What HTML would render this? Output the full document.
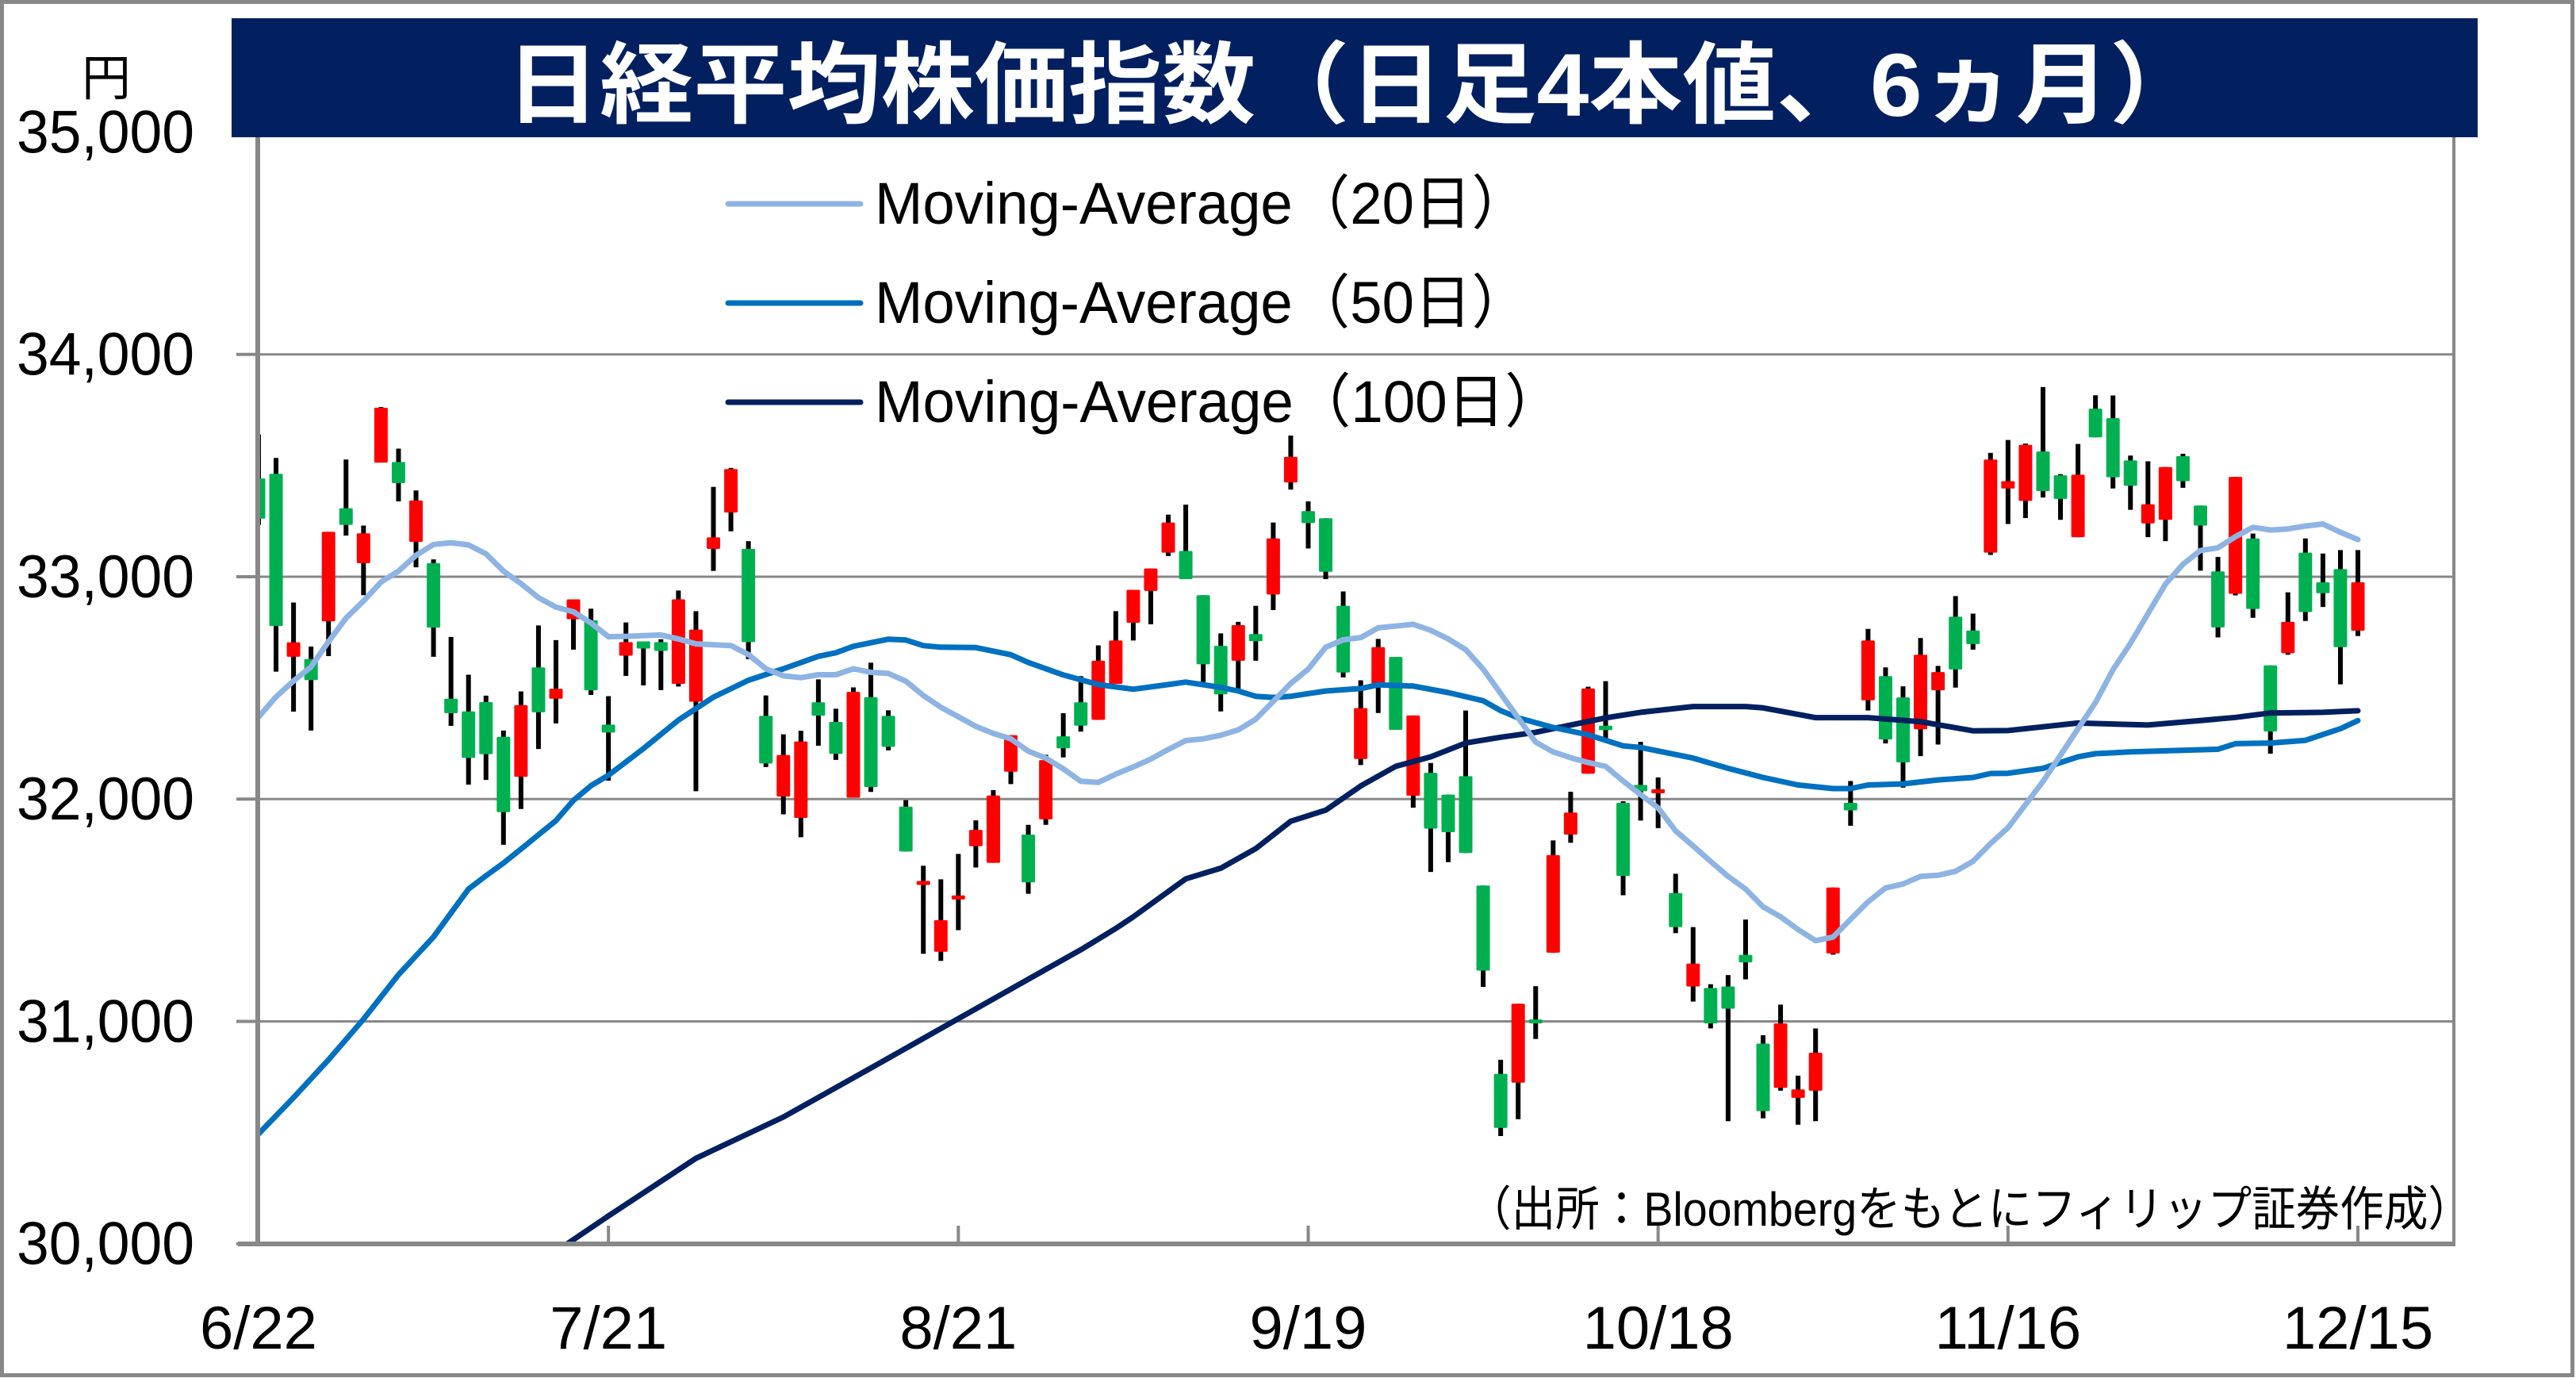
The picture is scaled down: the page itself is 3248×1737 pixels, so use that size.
<!DOCTYPE html>
<html><head><meta charset="utf-8"><style>
html,body{margin:0;padding:0;background:#fff;}
svg{display:block;}
text{font-family:"Liberation Sans","Noto Sans CJK JP",sans-serif;}
</style></head><body>
<svg id="chart" xmlns="http://www.w3.org/2000/svg" width="3248" height="1737" viewBox="0 0 3248 1737">
<rect x="2.5" y="2.5" width="3241" height="1731" fill="#fff" stroke="#888" stroke-width="5"/>
<g id="grid"></g>
<g id="candles" clip-path="url(#plotclip)"></g>
<g id="mas" clip-path="url(#plotclip)"></g>
<g id="axes"></g>
<defs><clipPath id="plotclip"><rect x="325" y="166" width="2769" height="1402"/></clipPath></defs>
<rect x="292" y="23" width="2832" height="150" fill="#022060"/>
<text x="1708" y="146" text-anchor="middle" font-size="112" font-weight="bold" fill="#fff" textLength="2140" lengthAdjust="spacingAndGlyphs" style="font-family:'Liberation Sans','Noto Sans CJK JP',sans-serif">日経平均株価指数（日足4本値、6ヵ月）</text>
<text x="134" y="120" text-anchor="middle" font-size="62">円</text>
<g>
 <g><line x1="918" y1="257" x2="1085" y2="257" stroke="#8EB4E3" stroke-width="7" stroke-linecap="round"/><text x="1103" y="282" font-size="74" textLength="825" lengthAdjust="spacingAndGlyphs">Moving-Average（20日）</text></g>
 <g><line x1="918" y1="382" x2="1085" y2="382" stroke="#0070C0" stroke-width="7" stroke-linecap="round"/><text x="1103" y="407" font-size="74" textLength="825" lengthAdjust="spacingAndGlyphs">Moving-Average（50日）</text></g>
 <g><line x1="918" y1="507" x2="1085" y2="507" stroke="#002060" stroke-width="7" stroke-linecap="round"/><text x="1103" y="532" font-size="74" textLength="867" lengthAdjust="spacingAndGlyphs">Moving-Average（100日）</text></g>
</g>
<text x="1850" y="1545" font-size="60" textLength="1267" lengthAdjust="spacingAndGlyphs">（出所：Bloombergをもとにフィリップ証券作成）</text>
</svg>
<script>
const openP=[33442,33463,32640,32630,32799,33308,33061,33513,33516,33157,33061,32451,32394,32436,32280,32100,32592,32451,32809,32804,32335,32645,32709,32706,32518,32438,33125,33289,33125,32374,32011,31915,32435,32347,32006,32458,32374,31966,31615,31313,31550,31788,31713,32123,31840,31909,32282,32435,32356,32518,32793,32936,33108,33116,32917,32689,32622,32742,32920,33424,33295,33263,32869,32180,32519,32639,32015,32118,32020,32103,31611,30764,30724,31005,31309,31840,32114,32330,31983,32063,32030,31577,31157,31150,31157,31299,30900,30701,30656,30688,31306,31983,32444,32553,32457,32314,32489,32820,32758,33108,33397,33341,33563,33456,33178,33756,33713,33523,33240,33256,33542,33320,33024,32923,33172,32601,32656,33108,32975,33034,32757];
const highP=[33640,33534,32884,32686,33202,33527,33230,33763,33576,33388,33078,32729,32559,32465,32308,32484,32781,32715,32898,32856,32463,32794,32709,32719,32938,32845,33404,33489,33160,32466,32291,32307,32538,32406,32502,32613,32399,31995,31700,31639,31753,31904,32040,32287,31884,32199,32386,32553,32691,32845,32941,33037,33279,33324,32917,32745,32797,32869,33244,33635,33339,33263,32934,32534,32720,32639,32376,32162,32020,32398,31611,30827,31079,31158,31814,32033,32505,32530,31990,32257,32097,31664,31424,31167,31208,31458,30938,31075,30756,30968,31602,32081,32765,32592,32507,32724,32599,32913,32834,33557,33615,33599,33853,33461,33597,33816,33815,33545,33519,33493,33553,33320,33089,33449,33194,32601,32930,33172,33104,33120,33120];
const lowP=[33233,32573,32393,32308,32643,33185,32917,33513,33339,33042,32640,32329,32065,32086,31794,31955,32225,32340,32672,32468,32083,32554,32511,32490,32506,32035,33026,33204,32629,32144,31931,31828,32240,32176,32006,32032,32219,31764,31304,31272,31410,31692,31713,32067,31574,31884,32187,32303,32356,32518,32713,32786,33093,32989,32526,32394,32494,32622,32850,33392,33127,32989,32547,32153,32387,32311,31961,31672,31716,31757,31155,30484,30560,30921,31309,31803,32114,32267,31567,31903,31869,31397,31089,30968,30551,31189,30564,30688,30535,30551,31300,31880,32398,32250,32051,32193,32245,32501,32672,33098,33237,33264,33356,33256,33178,33627,33397,33301,33178,33160,33400,33027,32727,32916,32815,32204,32649,32801,32864,32516,32733];
const closeP=[33261,32778,32705,32535,33202,33233,33195,33760,33421,33343,32771,32386,32185,32202,31941,32422,32390,32496,32898,32489,32299,32706,32677,32666,32898,32762,33177,33484,32706,32160,32198,32259,32375,32203,32482,32054,32235,31764,31630,31455,31565,31861,32016,32287,31625,32175,32228,32330,32622,32713,32941,33037,33244,32989,32606,32471,32782,32710,33172,33539,33241,33022,32569,32409,32683,32311,32376,31867,31851,31757,31228,30521,31079,30995,31748,31939,32497,32310,31654,32035,32040,31424,31260,30991,31057,31265,30596,30991,30694,30859,31602,31949,32713,32268,32165,32649,32571,32583,32697,33527,33430,33593,33385,33350,33459,33627,33447,33409,33326,33493,33430,33230,32772,33449,32855,32304,32797,32841,32926,32683,32975];
const ma20=[32369,32460,32531,32595,32708,32814,32891,32976,33025,33096,33145,33153,33143,33103,33025,32969,32906,32863,32842,32792,32730,32732,32735,32738,32720,32698,32694,32690,32650,32586,32554,32546,32559,32559,32586,32570,32565,32530,32466,32413,32370,32327,32295,32271,32215,32184,32136,32080,32075,32112,32144,32180,32223,32263,32271,32287,32311,32359,32439,32520,32584,32683,32716,32726,32770,32778,32786,32759,32720,32672,32584,32475,32365,32256,32212,32186,32164,32147,32081,32020,31960,31857,31789,31720,31652,31595,31515,31470,31413,31363,31379,31459,31538,31600,31618,31652,31657,31675,31720,31800,31871,31975,32079,32197,32316,32434,32582,32700,32834,32967,33056,33118,33130,33180,33222,33210,33215,33228,33237,33200,33167];
const ma50Days=[0,2,4,6,8,10,12,13,14,15,16,17,18,19,20,22,24,26,28,30,32,33,34,36,37,38,39,41,43,44,46,48,50,52,53,55,56,57,58,59,61,63,64,66,68,70,71,72,74,76,78,79,82,84,86,88,90,91,92,94,96,98,99,100,102,104,105,107,110,112,113,115,117,119,120];
const ma50=[30494,30657,30827,31010,31210,31380,31595,31655,31712,31775,31839,31903,31994,32060,32107,32227,32355,32458,32534,32586,32642,32658,32687,32719,32715,32690,32683,32681,32649,32614,32558,32515,32494,32515,32526,32502,32486,32462,32457,32462,32486,32497,32514,32508,32479,32442,32398,32365,32322,32289,32239,32232,32184,32138,32097,32063,32047,32047,32063,32068,32086,32097,32115,32116,32138,32190,32204,32212,32219,32224,32249,32252,32264,32316,32353];
const ma100Days=[17,20,25,30,35,40,45,47,49,50,53,55,57,59,61,63,65,67,69,71,73,75,77,79,82,85,86,89,92,95,98,100,104,108,111,113,115,118,120];
const ma100=[29965,30125,30384,30570,30790,31012,31234,31322,31418,31470,31641,31689,31777,31900,31950,32059,32147,32190,32252,32278,32300,32333,32365,32390,32416,32416,32410,32366,32366,32348,32307,32308,32342,32333,32353,32367,32387,32390,32397];
const yTicks=[30000,31000,32000,33000,34000,35000];
const yTickLabels=["30,000","31,000","32,000","33,000","34,000","35,000"];
const xTickDays=[0,20,40,60,80,100,120];
const xTickLabels=["6/22","7/21","8/21","9/19","10/18","11/16","12/15"];

const NS="http://www.w3.org/2000/svg";
const X0=326, DX=(2973-326)/120, Y30=1567.7, PX=0.28025, PL=325, PR=3094;
function xs(i){return X0+i*DX;}
function ys(v){return Y30-(v-30000)*PX;}
function mk(tag,attrs,parent){const e=document.createElementNS(NS,tag);for(const k in attrs)e.setAttribute(k,attrs[k]);parent.appendChild(e);return e;}
const grid=document.getElementById('grid'),cg=document.getElementById('candles'),mg=document.getElementById('mas'),ax=document.getElementById('axes');
yTicks.forEach((v,k)=>{
  if(v>30000&&v<35000){const l=mk('line',{x1:PL,x2:PR,y1:ys(v),y2:ys(v),stroke:'#888','stroke-width':3},grid);
  
  }
  const t=mk('line',{x1:298,x2:PL,y1:ys(v),y2:ys(v),stroke:'#888','stroke-width':4},ax);
  
  
  const tx=mk('text',{x:245,y:ys(v)+26,'text-anchor':'end','font-size':76,textLength:224,lengthAdjust:'spacingAndGlyphs'},ax);
  tx.textContent=yTickLabels[k];
  
  
});
for(let i=0;i<closeP.length;i++){
  const up=closeP[i]>=openP[i];const col=up?'#FF0000':'#00B050';
  const g=mk('g',{},cg);
  
  
  mk('line',{x1:xs(i),x2:xs(i),y1:ys(highP[i]),y2:ys(lowP[i]),stroke:'#000','stroke-width':6},g);
  let top=ys(Math.max(openP[i],closeP[i])),bot=ys(Math.min(openP[i],closeP[i]));
  if(bot-top<5){const m=(top+bot)/2;top=m-2.5;bot=m+2.5;}
  mk('rect',{x:xs(i)-8.5,y:top,width:17,height:bot-top,fill:col,rx:1.5},g);
}
function line(days,vals,color,name){
  const pts=days.map((d,k)=>xs(d).toFixed(1)+','+ys(vals[k]).toFixed(1)).join(' ');
  const p=mk('polyline',{points:pts,fill:'none',stroke:color,'stroke-width':7,'stroke-linejoin':'round','stroke-linecap':'round'},mg);
  
  
}
line(ma100Days,ma100,'#002060','ma100-line');
line(ma50Days,ma50,'#0070C0','ma50-line');
line(ma20.map((v,i)=>i),ma20,'#8EB4E3','ma20-line');
const r=mk('line',{x1:PR,x2:PR,y1:166,y2:1568,stroke:'#888','stroke-width':4},ax);


const ya=mk('line',{x1:PL,x2:PL,y1:166,y2:1570,stroke:'#888','stroke-width':6},ax);


const xa=mk('line',{x1:300,x2:PR+2,y1:1568,y2:1568,stroke:'#888','stroke-width':6},ax);


xTickDays.forEach((d,k)=>{
  const t=mk('line',{x1:xs(d),x2:xs(d),y1:1545,y2:1568,stroke:'#888','stroke-width':4},ax);
  
  
  const tx=mk('text',{x:xs(d),y:1700,'text-anchor':'middle','font-size':76},ax);
  tx.textContent=xTickLabels[k];
  
  
});
</script>
</body></html>
